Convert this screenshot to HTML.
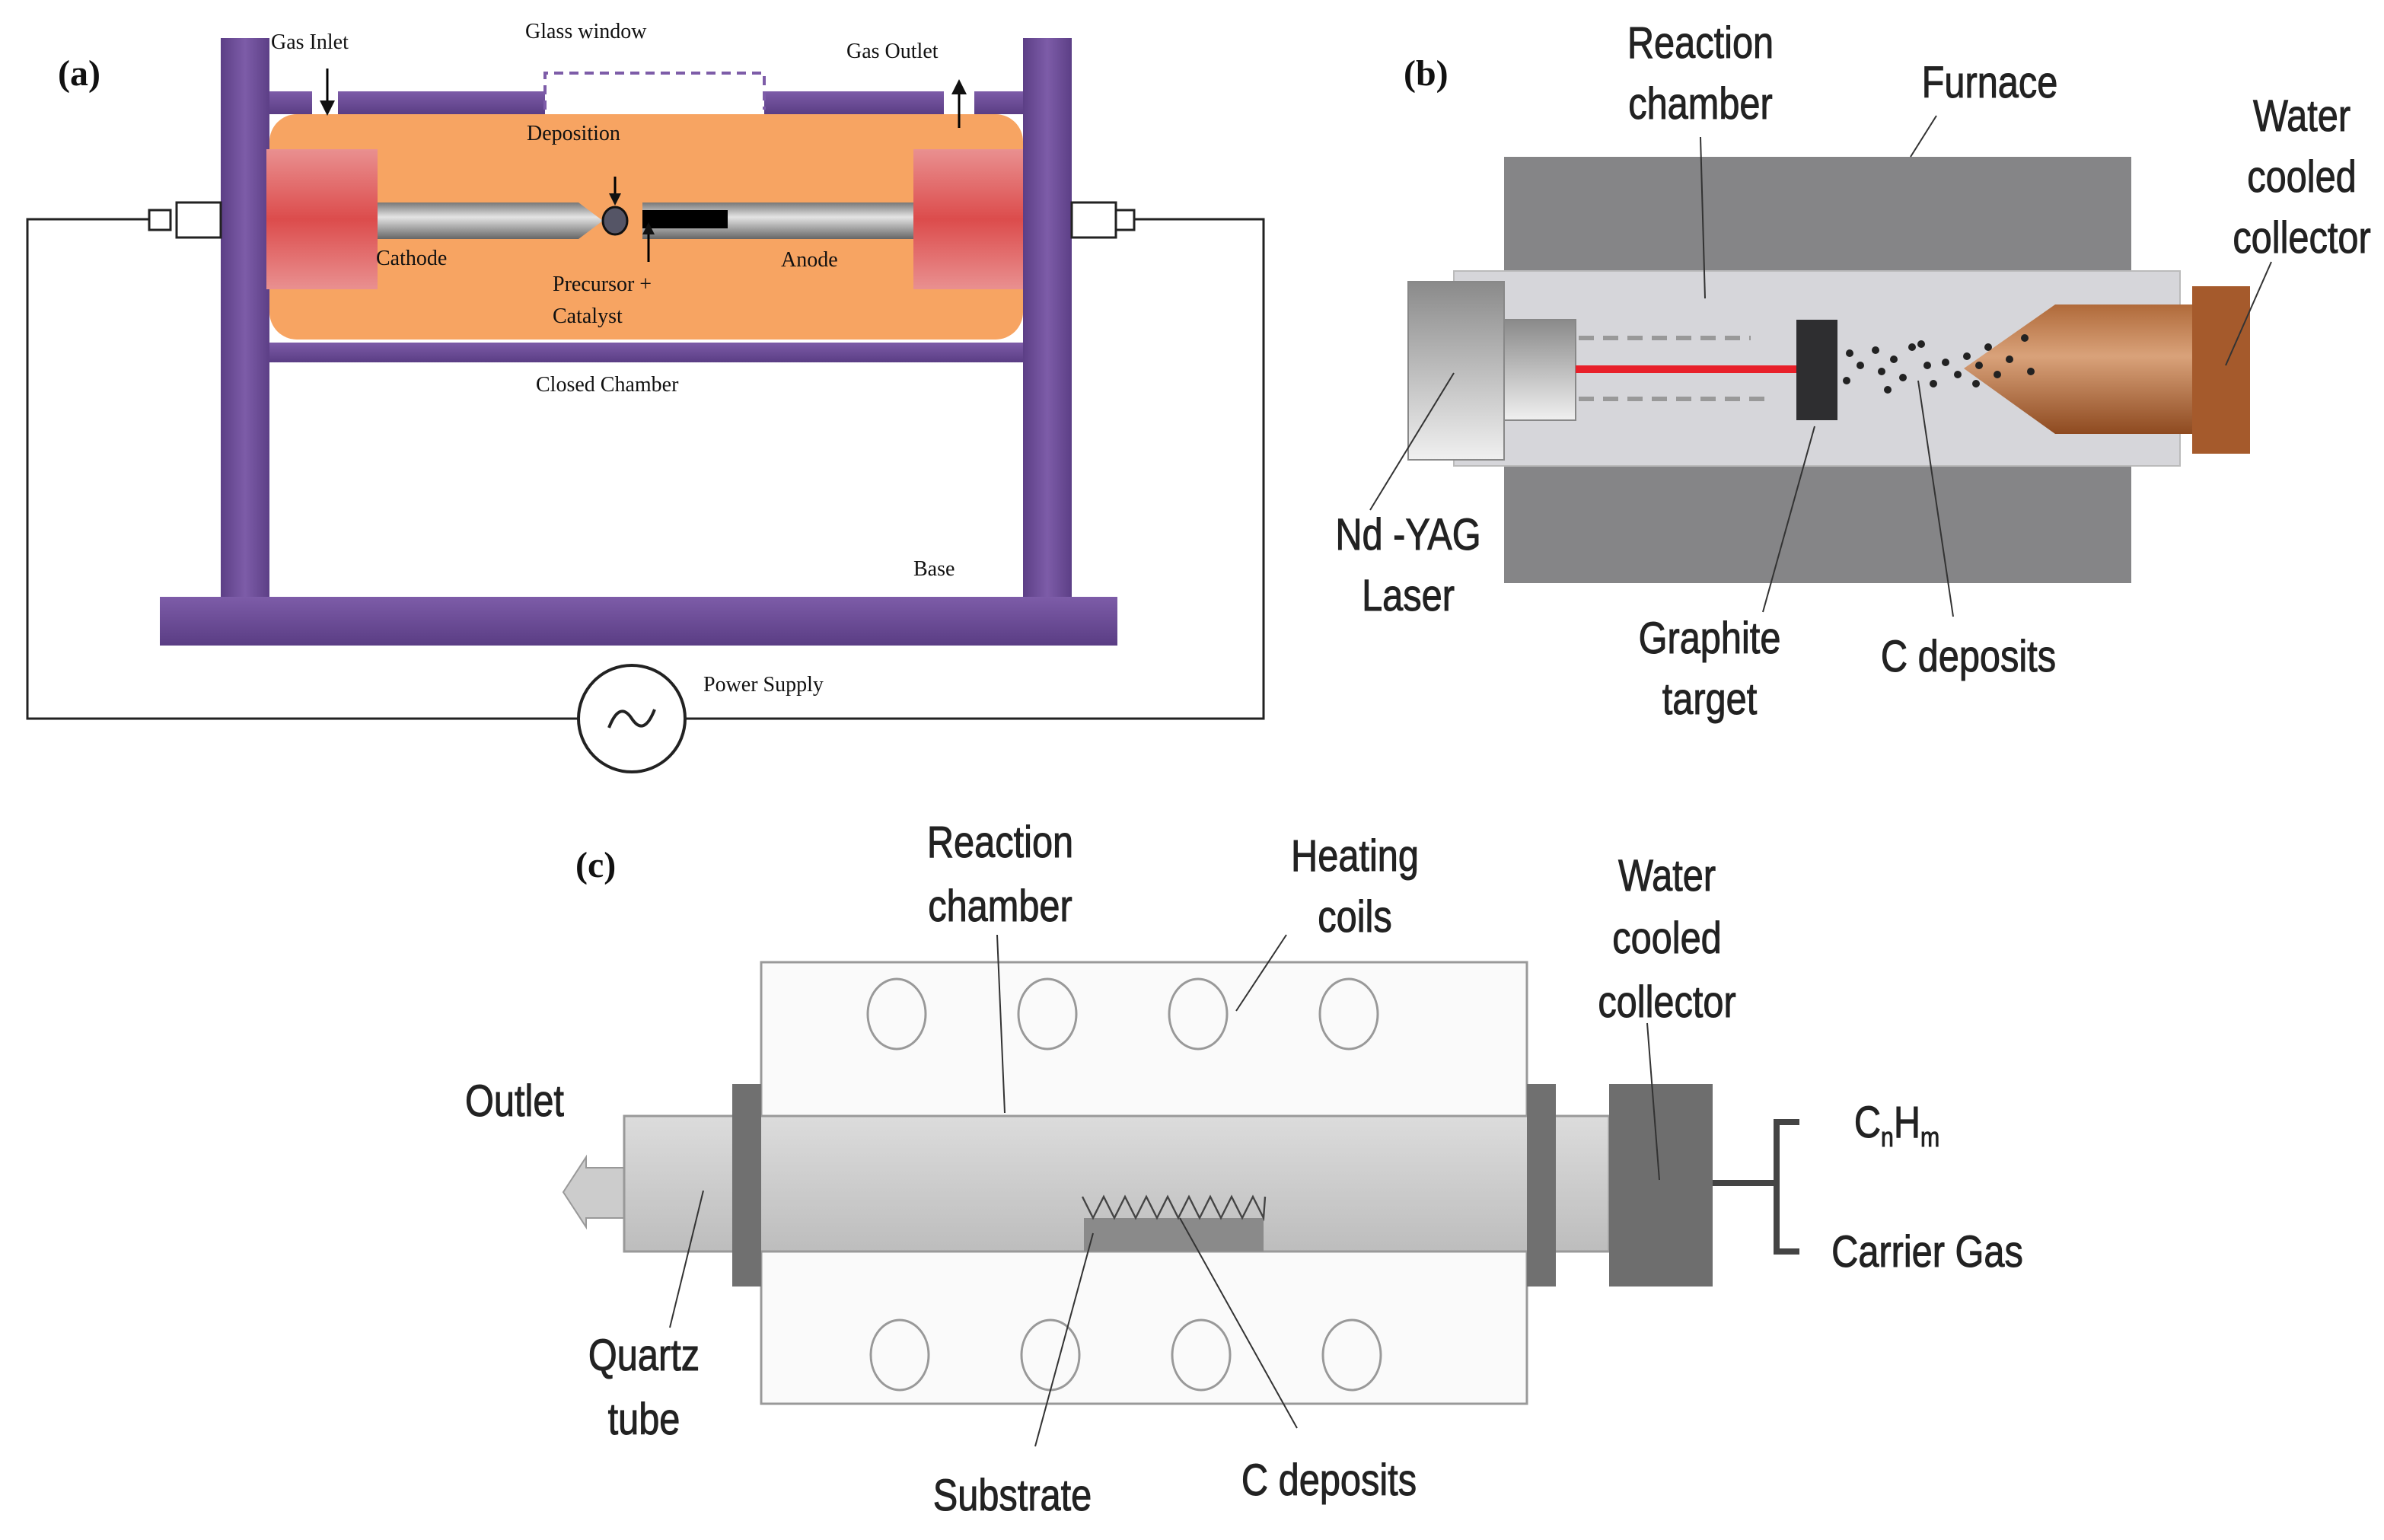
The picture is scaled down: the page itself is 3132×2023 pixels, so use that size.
<!DOCTYPE html>
<html><head><meta charset="utf-8"><style>html,body{margin:0;padding:0;background:#fff}svg{display:block}</style></head><body>
<svg width="3132" height="2023" viewBox="0 0 1566 1011.5" xmlns="http://www.w3.org/2000/svg">
<defs>
<linearGradient id="pur" x1="0" y1="0" x2="1" y2="0"><stop offset="0" stop-color="#5c3f86"/><stop offset=".5" stop-color="#7d5ca8"/><stop offset="1" stop-color="#5c3f86"/></linearGradient>
<linearGradient id="purh" x1="0" y1="0" x2="0" y2="1"><stop offset="0" stop-color="#7d5ca8"/><stop offset="1" stop-color="#5a3d84"/></linearGradient>
<linearGradient id="red" x1="0" y1="0" x2="0" y2="1"><stop offset="0" stop-color="#e99090"/><stop offset=".5" stop-color="#dc4c4c"/><stop offset="1" stop-color="#e99090"/></linearGradient>
<linearGradient id="rod" x1="0" y1="0" x2="0" y2="1"><stop offset="0" stop-color="#777"/><stop offset=".4" stop-color="#e4e4e4"/><stop offset="1" stop-color="#666"/></linearGradient>
<linearGradient id="lsr" x1="0" y1="0" x2="0" y2="1"><stop offset="0" stop-color="#8a8a8a"/><stop offset="1" stop-color="#f0f0f0"/></linearGradient>
<linearGradient id="brn" x1="0" y1="0" x2="0" y2="1"><stop offset="0" stop-color="#b06a3a"/><stop offset=".4" stop-color="#d9a27a"/><stop offset="1" stop-color="#8e4a20"/></linearGradient>
<linearGradient id="tube" x1="0" y1="0" x2="0" y2="1"><stop offset="0" stop-color="#dcdcdc"/><stop offset="1" stop-color="#bdbdbd"/></linearGradient>
</defs>
<g font-family="Liberation Serif, serif" font-size="14" fill="#111">
<!-- Panel a -->
<polyline points="98,144 18,144 18,472 380,472" fill="none" stroke="#222" stroke-width="1.5"/>
<polyline points="450,472 830,472 830,144 745,144" fill="none" stroke="#222" stroke-width="1.5"/>
<circle cx="415" cy="472" r="35" fill="#fff" stroke="#222" stroke-width="2"/>
<path d="M400,478 q7,-18 15,-6 t15,-6" fill="none" stroke="#222" stroke-width="2"/>
<rect x="177" y="75" width="495" height="148" rx="18" fill="#f7a462"/>
<rect x="177" y="60" width="28" height="15" fill="url(#purh)"/>
<rect x="222" y="60" width="136" height="15" fill="url(#purh)"/>
<rect x="502" y="60" width="118" height="15" fill="url(#purh)"/>
<rect x="640" y="60" width="32" height="15" fill="url(#purh)"/>
<path d="M358,72 V48 H502 V72" fill="none" stroke="#7d5ca8" stroke-width="2" stroke-dasharray="6,4"/>
<rect x="177" y="225" width="495" height="13" fill="url(#purh)"/>
<rect x="145" y="25" width="32" height="367" fill="url(#pur)"/>
<rect x="672" y="25" width="32" height="367" fill="url(#pur)"/>
<rect x="105" y="392" width="629" height="32" fill="url(#purh)"/>
<rect x="175" y="98" width="73" height="92" fill="url(#red)"/>
<rect x="600" y="98" width="72" height="92" fill="url(#red)"/>
<path d="M248,133 H380 L396,145 L380,157 H248Z" fill="url(#rod)"/>
<rect x="422" y="133" width="178" height="24" fill="url(#rod)"/>
<rect x="422" y="138" width="56" height="12" fill="#000"/>
<ellipse cx="404" cy="145" rx="8" ry="9" fill="#556" stroke="#111" stroke-width="1.5"/>
<rect x="116" y="133" width="29" height="23" fill="#fff" stroke="#222" stroke-width="1.5"/>
<rect x="98" y="138" width="14" height="13" fill="#fff" stroke="#222" stroke-width="1.5"/>
<rect x="704" y="133" width="29" height="23" fill="#fff" stroke="#222" stroke-width="1.5"/>
<rect x="733" y="138" width="12" height="13" fill="#fff" stroke="#222" stroke-width="1.5"/>
<g stroke="#000" stroke-width="1.5"><line x1="215" y1="45" x2="215" y2="70"/><line x1="630" y1="84" x2="630" y2="60"/><line x1="404" y1="116" x2="404" y2="130"/><line x1="426" y1="172" x2="426" y2="152"/></g>
<polygon points="210,66 220,66 215,76" /><polygon points="625,62 635,62 630,52"/><polygon points="400,127 408,127 404,135"/><polygon points="422,154 430,154 426,146"/>
<text x="38" y="56" font-size="24" font-weight="bold">(a)</text>
<text x="178" y="32">Gas Inlet</text>
<text x="345" y="25">Glass window</text>
<text x="556" y="38">Gas Outlet</text>
<text x="346" y="92">Deposition</text>
<text x="247" y="174">Cathode</text>
<text x="513" y="175">Anode</text>
<text x="363" y="191">Precursor +</text>
<text x="363" y="212">Catalyst</text>
<text x="352" y="257">Closed Chamber</text>
<text x="600" y="378">Base</text>
<text x="462" y="454">Power Supply</text>

<!-- Panel b -->
<rect x="988" y="103" width="412" height="280" fill="#858587"/>
<rect x="955" y="178" width="477" height="128" fill="#d6d6da" stroke="#bbb"/>
<rect x="925" y="185" width="63" height="117" fill="url(#lsr)" stroke="#888"/>
<rect x="988" y="210" width="47" height="66" fill="url(#lsr)" stroke="#888"/>
<g stroke="#999" stroke-width="3" stroke-dasharray="10,6"><line x1="1037" y1="222" x2="1150" y2="222"/><line x1="1037" y1="262" x2="1165" y2="262"/></g>
<rect x="1035" y="240" width="146" height="5" fill="#e8202a"/>
<rect x="1180" y="210" width="27" height="66" fill="#2e2e30"/>
<polygon points="1290,242 1350,200 1440,200 1440,285 1350,285" fill="url(#brn)"/>
<rect x="1440" y="188" width="38" height="110" fill="#a55a2c"/>
<g fill="#222">
<circle cx="1215" cy="232" r="2.5"/><circle cx="1222" cy="240" r="2.5"/><circle cx="1213" cy="250" r="2.5"/><circle cx="1232" cy="230" r="2.5"/><circle cx="1236" cy="244" r="2.5"/><circle cx="1244" cy="236" r="2.5"/><circle cx="1250" cy="248" r="2.5"/><circle cx="1256" cy="228" r="2.5"/><circle cx="1262" cy="226" r="2.5"/><circle cx="1266" cy="240" r="2.5"/><circle cx="1270" cy="252" r="2.5"/><circle cx="1278" cy="238" r="2.5"/><circle cx="1286" cy="246" r="2.5"/><circle cx="1292" cy="234" r="2.5"/><circle cx="1300" cy="240" r="2.5"/><circle cx="1306" cy="228" r="2.5"/><circle cx="1312" cy="246" r="2.5"/><circle cx="1320" cy="236" r="2.5"/><circle cx="1330" cy="222" r="2.5"/><circle cx="1334" cy="244" r="2.5"/><circle cx="1298" cy="252" r="2.5"/><circle cx="1240" cy="256" r="2.5"/>
</g>
<g stroke="#333" stroke-width="1"><line x1="1117" y1="90" x2="1120" y2="196"/><line x1="1272" y1="76" x2="1255" y2="103"/><line x1="1492" y1="172" x2="1462" y2="240"/><line x1="900" y1="335" x2="955" y2="245"/><line x1="1158" y1="402" x2="1192" y2="280"/><line x1="1283" y1="405" x2="1260" y2="250"/></g>
<text x="922" y="56" font-size="24" font-weight="bold">(b)</text>
<g font-family="Liberation Sans, sans-serif" font-size="29" text-anchor="middle" fill="#222" stroke="#222" stroke-width="0.5">
<g transform="translate(1117,0) scale(.84,1)"><text y="38">Reaction</text><text y="78">chamber</text></g>
<g transform="translate(1307,0) scale(.84,1)"><text y="64">Furnace</text></g>
<g transform="translate(1512,0) scale(.84,1)"><text y="86">Water</text><text y="126">cooled</text><text y="166">collector</text></g>
<g transform="translate(925,0) scale(.84,1)"><text y="361">Nd -YAG</text><text y="401">Laser</text></g>
<g transform="translate(1123,0) scale(.84,1)"><text y="429">Graphite</text><text y="469">target</text></g>
<g transform="translate(1293,0) scale(.84,1)"><text y="441">C deposits</text></g>

<!-- Panel c labels -->
<g transform="translate(657,0) scale(.84,1)"><text y="563">Reaction</text><text y="605">chamber</text></g>
<g transform="translate(890,0) scale(.84,1)"><text y="572">Heating</text><text y="612">coils</text></g>
<g transform="translate(1095,0) scale(.84,1)"><text y="585">Water</text><text y="626">cooled</text><text y="668">collector</text></g>
<g transform="translate(338,0) scale(.84,1)"><text y="733">Outlet</text></g>
<g transform="translate(423,0) scale(.84,1)"><text y="900">Quartz</text><text y="942">tube</text></g>
<g transform="translate(665,0) scale(.84,1)"><text y="992">Substrate</text></g>
<g transform="translate(873,0) scale(.84,1)"><text y="982">C deposits</text></g>
<g transform="translate(1246,0) scale(.84,1)"><text y="747">C<tspan font-size="18" dy="6">n</tspan><tspan dy="-6">H</tspan><tspan font-size="18" dy="6">m</tspan></text></g>
<g transform="translate(1266,0) scale(.84,1)"><text y="832">Carrier Gas</text></g>
</g>
<text x="378" y="576" font-size="24" font-weight="bold">(c)</text>

<!-- Panel c -->
<rect x="500" y="632" width="503" height="101" fill="#fafafa" stroke="#999" stroke-width="1.5"/>
<rect x="500" y="822" width="503" height="100" fill="#fafafa" stroke="#999" stroke-width="1.5"/>
<g fill="none" stroke="#999" stroke-width="1.5">
<ellipse cx="589" cy="666" rx="19" ry="23"/><ellipse cx="688" cy="666" rx="19" ry="23"/><ellipse cx="787" cy="666" rx="19" ry="23"/><ellipse cx="886" cy="666" rx="19" ry="23"/>
<ellipse cx="591" cy="890" rx="19" ry="23"/><ellipse cx="690" cy="890" rx="19" ry="23"/><ellipse cx="789" cy="890" rx="19" ry="23"/><ellipse cx="888" cy="890" rx="19" ry="23"/>
</g>
<polygon points="410,767 385,767 385,760 370,783 385,806 385,800 410,800" fill="#ccc" stroke="#999"/>
<rect x="410" y="733" width="647" height="89" fill="url(#tube)" stroke="#999" stroke-width="1.5"/>
<rect x="481" y="712" width="19" height="133" fill="#707070"/>
<rect x="1003" y="712" width="19" height="133" fill="#707070"/>
<rect x="1057" y="712" width="68" height="133" fill="#6e6e6e"/>
<rect x="712" y="800" width="118" height="22" fill="#8a8a8a"/>
<polyline points="711,786 718,800 725,786 732,800 739,786 746,800 753,786 760,800 767,786 774,800 781,786 788,800 795,786 802,800 809,786 816,800 823,786 830,800 831,786" fill="none" stroke="#444" stroke-width="1.2"/>
<g stroke="#444" stroke-width="4" fill="none"><line x1="1125" y1="777" x2="1167" y2="777"/><polyline points="1182,737 1167,737 1167,822 1182,822"/></g>
<g stroke="#333" stroke-width="1"><line x1="655" y1="614" x2="660" y2="731"/><line x1="845" y1="614" x2="812" y2="664"/><line x1="1082" y1="672" x2="1090" y2="775"/><line x1="440" y1="872" x2="462" y2="782"/><line x1="680" y1="950" x2="718" y2="810"/><line x1="852" y1="938" x2="775" y2="800"/></g>
</g>
</svg>
</body></html>
